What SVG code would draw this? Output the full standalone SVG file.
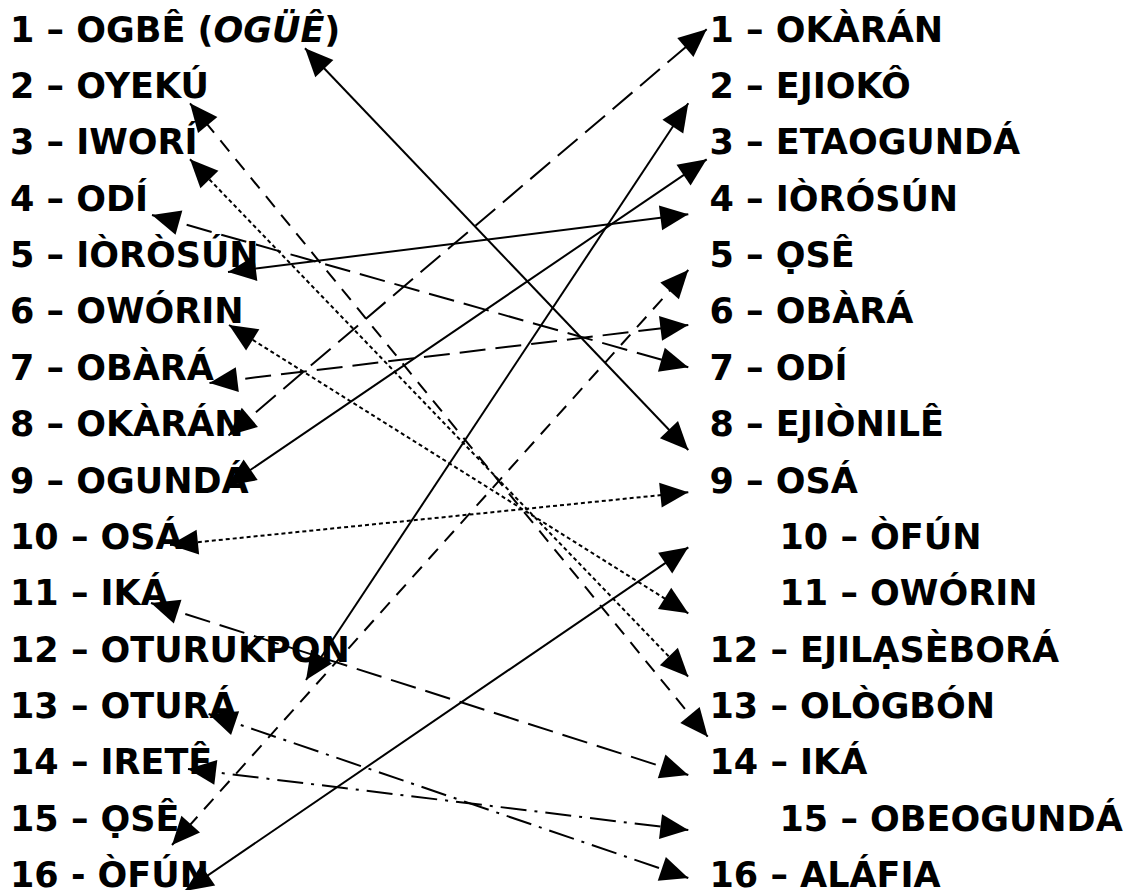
<svg xmlns="http://www.w3.org/2000/svg" width="1127" height="890" viewBox="0 0 1127 890">
<style>
text{font-family:"DejaVu Sans","Liberation Sans",sans-serif;font-weight:bold;font-size:35px;fill:#000}
.c{fill:none;stroke:#000;stroke-width:2;marker-start:url(#ah);marker-end:url(#ah)}
.dot{stroke-dasharray:4,3}
.ld{stroke-dasharray:26,10}
.md{stroke-dasharray:14,10}
.dd{stroke-dasharray:26,8,3,8}
</style>
<defs>
<marker id="ah" markerUnits="userSpaceOnUse" markerWidth="30" markerHeight="26" refX="28" refY="12.5" orient="auto-start-reverse" overflow="visible">
<path d="M0,0 L28,12.5 L0,25 Z" fill="#000"/>
</marker>
</defs>
<rect width="1127" height="890" fill="#fff"/>
<g id="left">
<g id="L1"><text x="10" y="41.7">1 – OGBÊ (<tspan font-style="italic">OGÜÊ</tspan>)</text></g>
<g id="L2"><text x="10" y="98.05">2 – OYEKÚ</text></g>
<g id="L3"><text x="10" y="154.4">3 – IWORÍ</text></g>
<g id="L4"><text x="10" y="210.75">4 – ODÍ</text></g>
<g id="L5"><text x="10" y="267.1">5 – IÒRÒSÚN</text></g>
<g id="L6"><text x="10" y="323.45">6 – OWÓRIN</text></g>
<g id="L7"><text x="10" y="379.8">7 – OBÀRÁ</text></g>
<g id="L8"><text x="10" y="436.15">8 – OKÀRÁN</text></g>
<g id="L9"><text x="10" y="492.5">9 – OGUNDÁ</text></g>
<g id="L10"><text x="10" y="548.85">10 – OSÁ</text></g>
<g id="L11"><text x="10" y="605.2">11 – IKÁ</text></g>
<g id="L12"><text x="10" y="661.55">12 – OTURUKPON</text></g>
<g id="L13"><text x="10" y="717.9">13 – OTURÁ</text></g>
<g id="L14"><text x="10" y="774.25">14 – IRETÊ</text></g>
<g id="L15"><text x="10" y="830.6">15 – ỌSÊ</text></g>
<g id="L16"><text x="10" y="886.5">16 - ÒFÚN</text></g>
</g>
<g id="right">
<g id="R1"><text x="709.5" y="41.7">1 – OKÀRÁN</text></g>
<g id="R2"><text x="709.5" y="98.05">2 – EJIOKÔ</text></g>
<g id="R3"><text x="709.5" y="154.4">3 – ETAOGUNDÁ</text></g>
<g id="R4"><text x="709.5" y="210.75">4 – IÒRÓSÚN</text></g>
<g id="R5"><text x="709.5" y="267.1">5 – ỌSÊ</text></g>
<g id="R6"><text x="709.5" y="323.45">6 – OBÀRÁ</text></g>
<g id="R7"><text x="709.5" y="379.8">7 – ODÍ</text></g>
<g id="R8"><text x="709.5" y="436.15">8 – EJIÒNILÊ</text></g>
<g id="R9"><text x="709.5" y="492.5">9 – OSÁ</text></g>
<g id="R10"><text x="779.5" y="548.85">10 – ÒFÚN</text></g>
<g id="R11"><text x="779.5" y="605.2">11 – OWÓRIN</text></g>
<g id="R12"><text x="709.5" y="661.55">12 – EJILẠSÈBORÁ</text></g>
<g id="R13"><text x="709.5" y="717.9">13 – OLÒGBÓN</text></g>
<g id="R14"><text x="709.5" y="774.25">14 – IKÁ</text></g>
<g id="R15"><text x="779.5" y="830.6">15 – OBEOGUNDÁ</text></g>
<g id="R16"><text x="709.5" y="886.5">16 – ALÁFIA</text></g>
</g>
<g id="connectors">
<line class="c" x1="305" y1="48.3" x2="688.3" y2="450"/>
<line class="c md" x1="190" y1="103.3" x2="707.7" y2="736.7"/>
<line class="c dot" x1="190" y1="159.3" x2="688.3" y2="676.7"/>
<line class="c ld" x1="152" y1="215" x2="688.3" y2="367.3"/>
<line class="c" x1="228" y1="272" x2="688.3" y2="214.3"/>
<line class="c dot" x1="229" y1="325" x2="688.3" y2="613.3"/>
<line class="c ld" x1="209.5" y1="383" x2="688.3" y2="325"/>
<line class="c ld" x1="228.5" y1="435.5" x2="706.7" y2="29.3"/>
<line class="c" x1="227.5" y1="485.5" x2="706.7" y2="159.3"/>
<line class="c dot" x1="170" y1="545" x2="688.3" y2="492.3"/>
<line class="c ld" x1="151" y1="603" x2="688.3" y2="775"/>
<line class="c" x1="306" y1="680" x2="688.3" y2="103.3"/>
<line class="c dd" x1="208.6" y1="714" x2="688.3" y2="878"/>
<line class="c dd" x1="188" y1="769" x2="688.3" y2="830"/>
<line class="c md" x1="172" y1="845" x2="688.3" y2="270"/>
<line class="c" x1="185" y1="891" x2="688.3" y2="547.3"/>
</g>
</svg>
